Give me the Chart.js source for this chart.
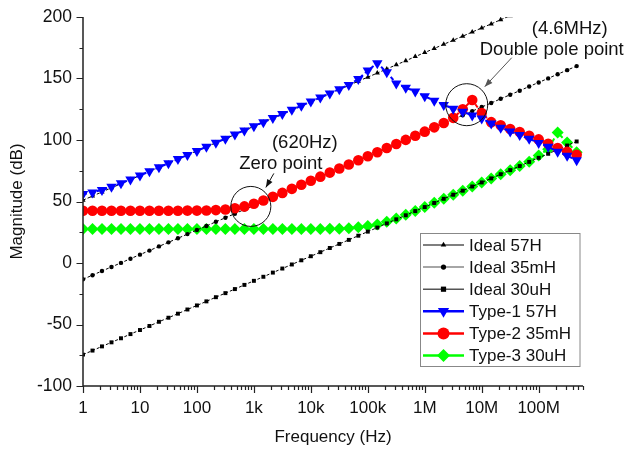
<!DOCTYPE html>
<html>
<head>
<meta charset="utf-8">
<script src="https://cdn.jsdelivr.net/npm/chart.js@4.4.1/dist/chart.umd.min.js"></script>
<style>
  html, body { margin: 0; padding: 0; background: #fff; }
  #wrap { width: 631px; height: 451px; }
</style>
</head>
<body>
<div id="wrap"><canvas id="chart_canvas" width="631" height="451"></canvas></div>
<script>
// frequency grid (Hz), 6 points per decade
const FREQS = [
  1, 1.468, 2.154, 3.162, 4.642, 6.813,
  10, 14.68, 21.54, 31.62, 46.42, 68.13,
  100, 146.8, 215.4, 316.2, 464.2, 681.3,
  1e3, 1468, 2154, 3162, 4642, 6813,
  1e4, 14680, 21540, 31620, 46420, 68130,
  1e5, 146800, 215400, 316200, 464200, 681300,
  1e6, 1.468e6, 2.154e6, 3.162e6, 4.642e6, 6.813e6,
  1e7, 1.468e7, 2.154e7, 3.162e7, 4.642e7, 6.813e7,
  1e8, 1.468e8, 2.154e8, 3.162e8, 4.642e8
];

const IDEAL_57H = [
  51.1, 54.4, 57.8, 61.1, 64.4, 67.8,
  71.1, 74.4, 77.8, 81.1, 84.4, 87.8,
  91.1, 94.4, 97.8, 101.1, 104.4, 107.8,
  111.1, 114.4, 117.8, 121.1, 124.4, 127.8,
  131.1, 134.4, 137.8, 141.1, 144.4, 147.8,
  151.1, 154.4, 157.8, 161.1, 164.4, 167.8,
  171.1, 174.4, 177.8, 181.1, 184.4, 187.8,
  191.1, 194.4, 197.8, 201.1, null, null,
  null, null, null, null, null
];
const IDEAL_35MH = [
  -13.2, -9.9, -6.5, -3.2, 0.1, 3.5,
  6.8, 10.1, 13.5, 16.8, 20.1, 23.5,
  26.8, 30.1, 33.5, 36.8, 40.1, 43.5,
  46.8, 50.1, 53.5, 56.8, 60.1, 63.5,
  66.8, 70.1, 73.5, 76.8, 80.1, 83.5,
  86.8, 90.1, 93.5, 96.8, 100.1, 103.5,
  106.8, 110.1, 113.5, 116.8, 120.1, 123.5,
  126.8, 130.1, 133.5, 136.8, 140.1, 143.5,
  146.8, 150.1, 153.5, 156.8, 160.1
];
const IDEAL_30UH = [
  -74.5, -71.2, -67.8, -64.5, -61.2, -57.8,
  -54.5, -51.2, -47.8, -44.5, -41.2, -37.8,
  -34.5, -31.2, -27.8, -24.5, -21.2, -17.8,
  -14.5, -11.2, -7.8, -4.5, -1.2, 2.2,
  5.5, 8.8, 12.2, 15.5, 18.8, 22.2,
  25.5, 28.8, 32.2, 35.5, 38.8, 42.2,
  45.5, 48.8, 52.2, 55.5, 58.8, 62.2,
  65.5, 68.8, 72.2, 75.5, 78.8, 82.2,
  85.5, 88.8, 92.2, 95.5, 98.8
];
const TYPE1_57H = [
  56.0, 57.4, 59.4, 61.9, 64.8, 67.9,
  71.2, 74.5, 77.8, 81.1, 84.5, 87.8,
  91.1, 94.5, 97.8, 101.1, 104.5, 107.8,
  111.1, 114.5, 117.8, 121.1, 124.5, 127.8,
  131.2, 134.5, 137.9, 141.3, 144.8, 149.5,
  156.5, 162.5, 155, 146, 142.5, 139.5,
  135.5, 132, 128.5, 125.5, 123, 120,
  117.5, 113.5, 110, 107, 104, 101,
  97.6, 94.5, 90.5, 87.2, 83.5
];
const TYPE2_35MH = [
  42.5, 42.5, 42.5, 42.5, 42.5, 42.5,
  42.5, 42.5, 42.5, 42.5, 42.5, 42.6,
  42.6, 42.7, 43.0, 43.5, 44.5, 46.0,
  48.2, 50.8, 53.8, 57.0, 60.3, 63.6,
  66.9, 70.2, 73.5, 76.8, 80.1, 83.5,
  86.8, 90.1, 93.5, 96.8, 100.1, 103.5,
  106.8, 110.3, 113.8, 118, 125, 132.5,
  122, 114.5, 112, 109, 106.5, 103.5,
  100.5, 97, 93.5, 90.5, 88
];
const TYPE3_30UH = [
  27.6, 27.6, 27.6, 27.6, 27.6, 27.6,
  27.6, 27.6, 27.6, 27.6, 27.6, 27.6,
  27.6, 27.6, 27.6, 27.6, 27.6, 27.6,
  27.6, 27.6, 27.6, 27.6, 27.6, 27.6,
  27.6, 27.6, 27.8, 27.9, 28.3, 29.0,
  30.0, 31.3, 33.5, 36.1, 39.2, 42.3,
  45.6, 48.9, 52.2, 55.5, 58.8, 62.2,
  65.5, 68.8, 72.2, 75.5, 78.8, 82.3,
  87.5, 92.5, 106, 98, 90
];

const SERIES_LABELS = ['Ideal 57H', 'Ideal 35mH', 'Ideal 30uH', 'Type-1 57H', 'Type-2 35mH', 'Type-3 30uH'];
const X_TICK_LABELS = ['1', '10', '100', '1k', '10k', '100k', '1M', '10M', '100M'];
const Y_MIN = -100, Y_MAX = 200, Y_STEP = 50;
const X_MIN = 1, X_MAX = 6e8;

const FONT = "'Liberation Sans', Arial, Helvetica, sans-serif";
const CHART_CANVAS = document.getElementById('chart_canvas');

const toPoints = ys => FREQS.map((f, i) => ({ x: f, y: ys[i] }));

// higher order is drawn first (underneath)
const ideal = (label, data, style, radius) => ({
  label: label, data: toPoints(data), order: 3,
  borderColor: '#000', backgroundColor: '#000', borderWidth: 1, borderDash: [3, 2],
  pointStyle: style, pointRadius: radius, pointBorderWidth: 0,
});
const typed = (label, data, color, style, radius, rot, order) => ({
  label: label, data: toPoints(data), order: order,
  borderColor: color, backgroundColor: color, borderWidth: 2, borderDash: [4, 3],
  pointStyle: style, pointRadius: radius, pointRotation: rot, pointBorderWidth: 0,
});

const datasets = [
  ideal(SERIES_LABELS[0], IDEAL_57H, 'triangle', 3),
  ideal(SERIES_LABELS[1], IDEAL_35MH, 'circle', 2.2),
  ideal(SERIES_LABELS[2], IDEAL_30UH, 'rect', 2.8),
  typed(SERIES_LABELS[3], TYPE1_57H, '#0000ff', 'triangle', 6, 180, 1),
  typed(SERIES_LABELS[4], TYPE2_35MH, '#ff0000', 'circle', 5.3, 0, 2),
  typed(SERIES_LABELS[5], TYPE3_30UH, '#00ff00', 'rectRot', 6, 0, 5),
];

// legend entries: [line color, line width, marker, marker size, marker color]
const LEGEND_STYLE = [
  ['#555', 1.5, 'triUp', 3.2, '#000'],
  ['#888', 1.5, 'dot', 2.6, '#000'],
  ['#555', 1.5, 'square', 2.6, '#000'],
  ['#0000ff', 2.5, 'triDown', 6.5, '#0000ff'],
  ['#ff0000', 2.5, 'dot', 6, '#ff0000'],
  ['#00ff00', 2.5, 'diamond', 6.5, '#00ff00'],
];

function marker(ctx, kind, x, y, r, color) {
  ctx.fillStyle = color;
  ctx.beginPath();
  if (kind === 'dot') ctx.arc(x, y, r, 0, Math.PI * 2);
  else if (kind === 'square') ctx.rect(x - r, y - r, 2 * r, 2 * r);
  else if (kind === 'diamond') { ctx.moveTo(x, y - r); ctx.lineTo(x + r, y); ctx.lineTo(x, y + r); ctx.lineTo(x - r, y); }
  else if (kind === 'triUp') { ctx.moveTo(x, y - r); ctx.lineTo(x + r * 0.87, y + r * 0.5); ctx.lineTo(x - r * 0.87, y + r * 0.5); }
  else if (kind === 'triDown') { ctx.moveTo(x, y + r); ctx.lineTo(x + r * 0.87, y - r * 0.5); ctx.lineTo(x - r * 0.87, y - r * 0.5); }
  ctx.closePath();
  ctx.fill();
}

function arrow(ctx, x1, y1, x2, y2, color) {
  ctx.strokeStyle = color; ctx.fillStyle = color; ctx.lineWidth = 1;
  ctx.beginPath(); ctx.moveTo(x1, y1); ctx.lineTo(x2, y2); ctx.stroke();
  const a = Math.atan2(y2 - y1, x2 - x1), L = 8, W = 3;
  ctx.beginPath();
  ctx.moveTo(x2, y2);
  ctx.lineTo(x2 - L * Math.cos(a) + W * Math.sin(a), y2 - L * Math.sin(a) - W * Math.cos(a));
  ctx.lineTo(x2 - L * Math.cos(a) - W * Math.sin(a), y2 - L * Math.sin(a) + W * Math.cos(a));
  ctx.closePath(); ctx.fill();
}

const decorPlugin = {
  id: 'decor',
  afterDatasetsDraw(chart) {
    const { ctx, chartArea: a, scales: { x: xs, y: ys } } = chart;
    ctx.save();
    // axis lines and tick marks
    ctx.strokeStyle = '#222';
    ctx.lineWidth = 1.5;
    ctx.beginPath();
    ctx.moveTo(a.left, a.top); ctx.lineTo(a.left, a.bottom); ctx.lineTo(a.right, a.bottom);
    ctx.stroke();
    ctx.lineWidth = 1.2;
    ctx.beginPath();
    for (let v = Y_MIN; v <= Y_MAX; v += Y_STEP / 2) {
      const yy = Math.round(ys.getPixelForValue(v)) + 0.5;
      const len = (v % Y_STEP === 0) ? 6.5 : 3.5;
      ctx.moveTo(a.left, yy); ctx.lineTo(a.left - len, yy);
    }
    for (let d = 0; d <= 8; d++) {
      for (let m = 1; m <= 9; m++) {
        const f = m * Math.pow(10, d);
        if (f > X_MAX) break;
        const xx = Math.round(xs.getPixelForValue(f)) + 0.5;
        const len = m === 1 ? 7 : 4;
        ctx.moveTo(xx, a.bottom); ctx.lineTo(xx, a.bottom + len);
      }
    }
    ctx.stroke();

    // annotations
    const c1x = xs.getPixelForValue(885), c1y = ys.getPixelForValue(46);
    const c2x = xs.getPixelForValue(5.46e6), c2y = ys.getPixelForValue(128.7);
    ctx.strokeStyle = '#111'; ctx.lineWidth = 1;
    ctx.beginPath(); ctx.arc(c1x, c1y, 20, 0, Math.PI * 2); ctx.stroke();
    ctx.beginPath(); ctx.arc(c2x, c2y, 21, 0, Math.PI * 2); ctx.stroke();
    arrow(ctx, c1x + 23, c1y - 33, c1x + 15, c1y - 19, '#111');
    arrow(ctx, c2x + 45, c2y - 47, c2x + 18, c2y - 18, '#555');
    ctx.fillStyle = '#111';
    ctx.font = '18.5px ' + FONT;
    ctx.textAlign = 'center';
    ctx.textBaseline = 'alphabetic';
    ctx.fillText('(620Hz)', c1x + 54, c1y - 58);
    ctx.fillText('Zero point', c1x + 30, c1y - 37);
    ctx.fillText('(4.6MHz)', c2x + 103, c2y - 71);
    ctx.fillText('Double pole point', c2x + 85, c2y - 50);

    // legend box
    const bx = 420, by = 233, bw = 159.5, bh = 133, rowH = 22.1;
    ctx.fillStyle = '#fff';
    ctx.fillRect(bx, by, bw, bh);
    ctx.strokeStyle = '#888'; ctx.lineWidth = 1;
    ctx.strokeRect(bx + 0.5, by + 0.5, bw, bh);
    ctx.font = '17px ' + FONT;
    ctx.textAlign = 'left';
    ctx.textBaseline = 'middle';
    SERIES_LABELS.forEach((lab, i) => {
      const [lc, lw, mk, ms, mc] = LEGEND_STYLE[i];
      const yy = by + 12 + i * rowH;
      ctx.strokeStyle = lc; ctx.lineWidth = lw;
      ctx.beginPath(); ctx.moveTo(bx + 3, yy); ctx.lineTo(bx + 44, yy); ctx.stroke();
      marker(ctx, mk, bx + 23.5, yy, ms, mc);
      ctx.fillStyle = '#111';
      ctx.fillText(lab, bx + 49, yy + 1);
    });
    ctx.restore();
  }
};

const config = {
  type: 'line',
  data: { datasets: datasets },
  options: {
    responsive: false,
    animation: false,
    layout: { padding: { left: 0, right: 48, top: 17, bottom: 0 } },
    plugins: { legend: { display: false }, tooltip: { enabled: false } },
    scales: {
      x: {
        type: 'logarithmic', min: X_MIN, max: X_MAX,
        grid: { display: false, drawTicks: false },
        border: { display: false },
        ticks: {
          autoSkip: false, maxRotation: 0, padding: 12, color: '#111',
          font: { family: FONT, size: 17 },
          callback: (v) => {
            const e = Math.log10(v);
            return Math.abs(e - Math.round(e)) < 1e-9 ? (X_TICK_LABELS[Math.round(e)] || '') : '';
          }
        },
        title: { display: true, text: 'Frequency (Hz)', color: '#111', font: { family: FONT, size: 17 }, padding: { top: 0, bottom: 3 } },
        afterFit: (s) => { s.height = 65; s.paddingLeft = 0; s.paddingRight = 0; }
      },
      y: {
        min: Y_MIN, max: Y_MAX,
        grid: { display: false, drawTicks: false },
        border: { display: false },
        ticks: { stepSize: Y_STEP, padding: 11, color: '#111', font: { family: FONT, size: 17.5 } },
        title: { display: true, text: 'Magnitude (dB)', color: '#111', font: { family: FONT, size: 17 }, padding: { top: 7, bottom: 0 } },
        afterFit: (s) => { s.width = 83; s.paddingTop = 0; s.paddingBottom = 0; }
      }
    }
  },
  plugins: [decorPlugin]
};

const myChart = new Chart(CHART_CANVAS, config);
</script>
</body>
</html>
